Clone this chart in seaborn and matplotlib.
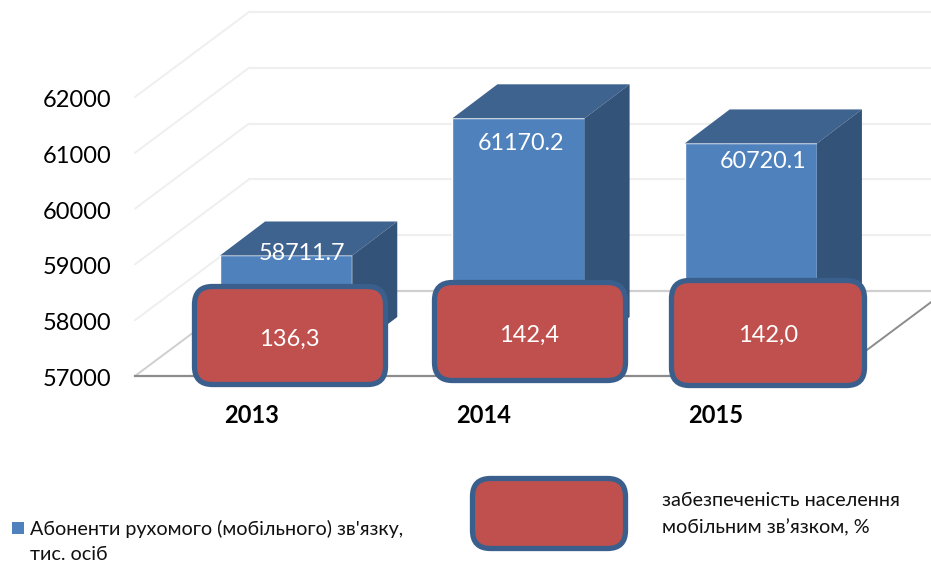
import matplotlib
matplotlib.use('Agg')
import matplotlib.pyplot as plt
import seaborn as sns
from matplotlib.patches import FancyBboxPatch, Polygon, Rectangle
from matplotlib.transforms import Affine2D

years = ['2013', '2014', '2015']
subscribers = [58711.7, 61170.2, 60720.1]
subscriber_labels = ['58711.7', '61170.2', '60720.1']
coverage_labels = ['136,3', '142,4', '142,0']
y_ticks = [57000, 58000, 59000, 60000, 61000, 62000]

W, H = 931, 562
BLUE = '#4F81BD'
BLUE_TOP = '#3E638F'
BLUE_SIDE = '#335379'
RED = '#C0504D'
BORDER = '#3A5F8D'

sns.set_theme(style='white')
plt.rcParams['font.family'] = ['Lato', 'Open Sans', 'DejaVu Sans']


def px_axes(fig, left, top, right, bottom):
    return fig.add_axes([left / W, 1 - bottom / H, (right - left) / W, (bottom - top) / H])


fig = plt.figure(figsize=(W / 100, H / 100), dpi=100, facecolor='white')

# ---- walls and floor ----
ax = px_axes(fig, 135, 97, 832, 376)
ax.set_xlim(-0.5, 2.5)
ax.set_ylim(57000, 62000)
ax.set_xticks(range(3))
ax.set_xticklabels(years, fontweight='bold', fontsize=17, color='black')
ax.set_yticks(y_ticks)
ax.set_yticklabels([str(t) for t in y_ticks], fontsize=17, color='black')
ax.tick_params(axis='x', length=0, pad=20)
ax.tick_params(axis='y', length=0, pad=17)
for name in ['top', 'right', 'left']:
    ax.spines[name].set_visible(False)
ax.spines['bottom'].set_color('#8C8C8C')
ax.spines['bottom'].set_linewidth(1.6)

# tick labels sit a little lower than matplotlib centres them
for label in ax.get_yticklabels():
    label.set_transform(label.get_transform() + Affine2D().translate(0, -1.5))

back = ax.transData + Affine2D().translate(114, 85)
for t in y_ticks:
    wall_color = '#CFCFCF' if t == y_ticks[0] else '#EFEFEF'
    ax.plot([-0.5, 2.5], [t, t], transform=back, color=wall_color, lw=1.6, clip_on=False, zorder=1)
    xs = [ax.transData.transform((-0.5, t)), back.transform((-0.5, t))]
    ax.plot([xs[0][0], xs[1][0]], [xs[0][1], xs[1][1]], transform=None, color=wall_color, lw=1.4, clip_on=False, zorder=1)

# right edge of the floor
p0 = ax.transData.transform((2.5, 57000))
p1 = back.transform((2.5, 57000))
ax.plot([p0[0], p1[0]], [p0[1], p1[1]], transform=None, color='#8C8C8C', lw=1.4, clip_on=False, zorder=1)

# ---- bars, pushed back from the front plane ----
ax_bar = px_axes(fig, 135 + 35, 97 - 25, 832 + 35, 376 - 25)
sns.barplot(x=years, y=subscribers, ax=ax_bar, color=BLUE, saturation=1, width=0.569)
ax_bar.set_xlim(-0.5, 2.5)
ax_bar.set_ylim(57000, 62000)
ax_bar.axis('off')

depth = ax_bar.transData + Affine2D().translate(45, 34)
for bar in ax_bar.patches:
    x0 = bar.get_x()
    x1 = x0 + bar.get_width()
    top = bar.get_height()
    c = [ax_bar.transData.transform(q) for q in [(x0, top), (x1, top), (x1, 57000)]]
    d = [depth.transform(q) for q in [(x0, top), (x1, top), (x1, 57000)]]
    ax_bar.add_patch(Polygon([c[0], c[1], d[1], d[0]], transform=None, facecolor=BLUE_TOP, edgecolor='none', clip_on=False))
    ax_bar.add_patch(Polygon([c[1], c[2], d[2], d[1]], transform=None, facecolor=BLUE_SIDE, edgecolor='none', clip_on=False))

# ---- labels and rounded boxes, in pixel coordinates ----
over = fig.add_axes([0, 0, 1, 1])
over.set_xlim(0, W)
over.set_ylim(H, 0)
over.axis('off')


def red_box(x0, y0, x1, y1):
    inset = 2.5
    pad = 18
    over.add_patch(FancyBboxPatch((x0 + inset + pad, y0 + inset + pad),
                                  x1 - x0 - 2 * (inset + pad), y1 - y0 - 2 * (inset + pad),
                                  boxstyle=f'round,pad={pad},rounding_size=18', mutation_aspect=1,
                                  facecolor=RED, edgecolor=BORDER, linewidth=3.8))


boxes = [(192, 284, 388, 387), (432, 280, 628, 383), (669, 278, 867, 388)]
for (x0, y0, x1, y1), label, tx, ty in zip(boxes, coverage_labels, [289, 529, 768], [338, 334, 334]):
    red_box(x0, y0, x1, y1)
    over.text(tx, ty + 1, label, color='white', fontsize=17, ha='center', va='center')

for label, tx, ty in zip(subscriber_labels, [302, 521, 763], [252, 142, 161]):
    over.text(tx, ty + 1, label, color='white', fontsize=16.8, ha='center', va='center')

# ---- legend ----
over.add_patch(Rectangle((12, 522), 12, 12, facecolor=BLUE, edgecolor='none'))
over.text(30, 529, "Абоненти рухомого (мобільного) зв'язку,", fontsize=14.2, color='#111111', va='center')
over.text(30, 555, 'тис. осіб', fontsize=14.2, color='#111111', va='center')
red_box(470, 476, 628, 551)
over.text(662, 500, 'забезпеченість населення', fontsize=14.3, color='#111111', va='center')
over.text(662, 528, 'мобільним зв’язком, %', fontsize=14.3, color='#111111', va='center')

fig.savefig('out.png', dpi=100)
